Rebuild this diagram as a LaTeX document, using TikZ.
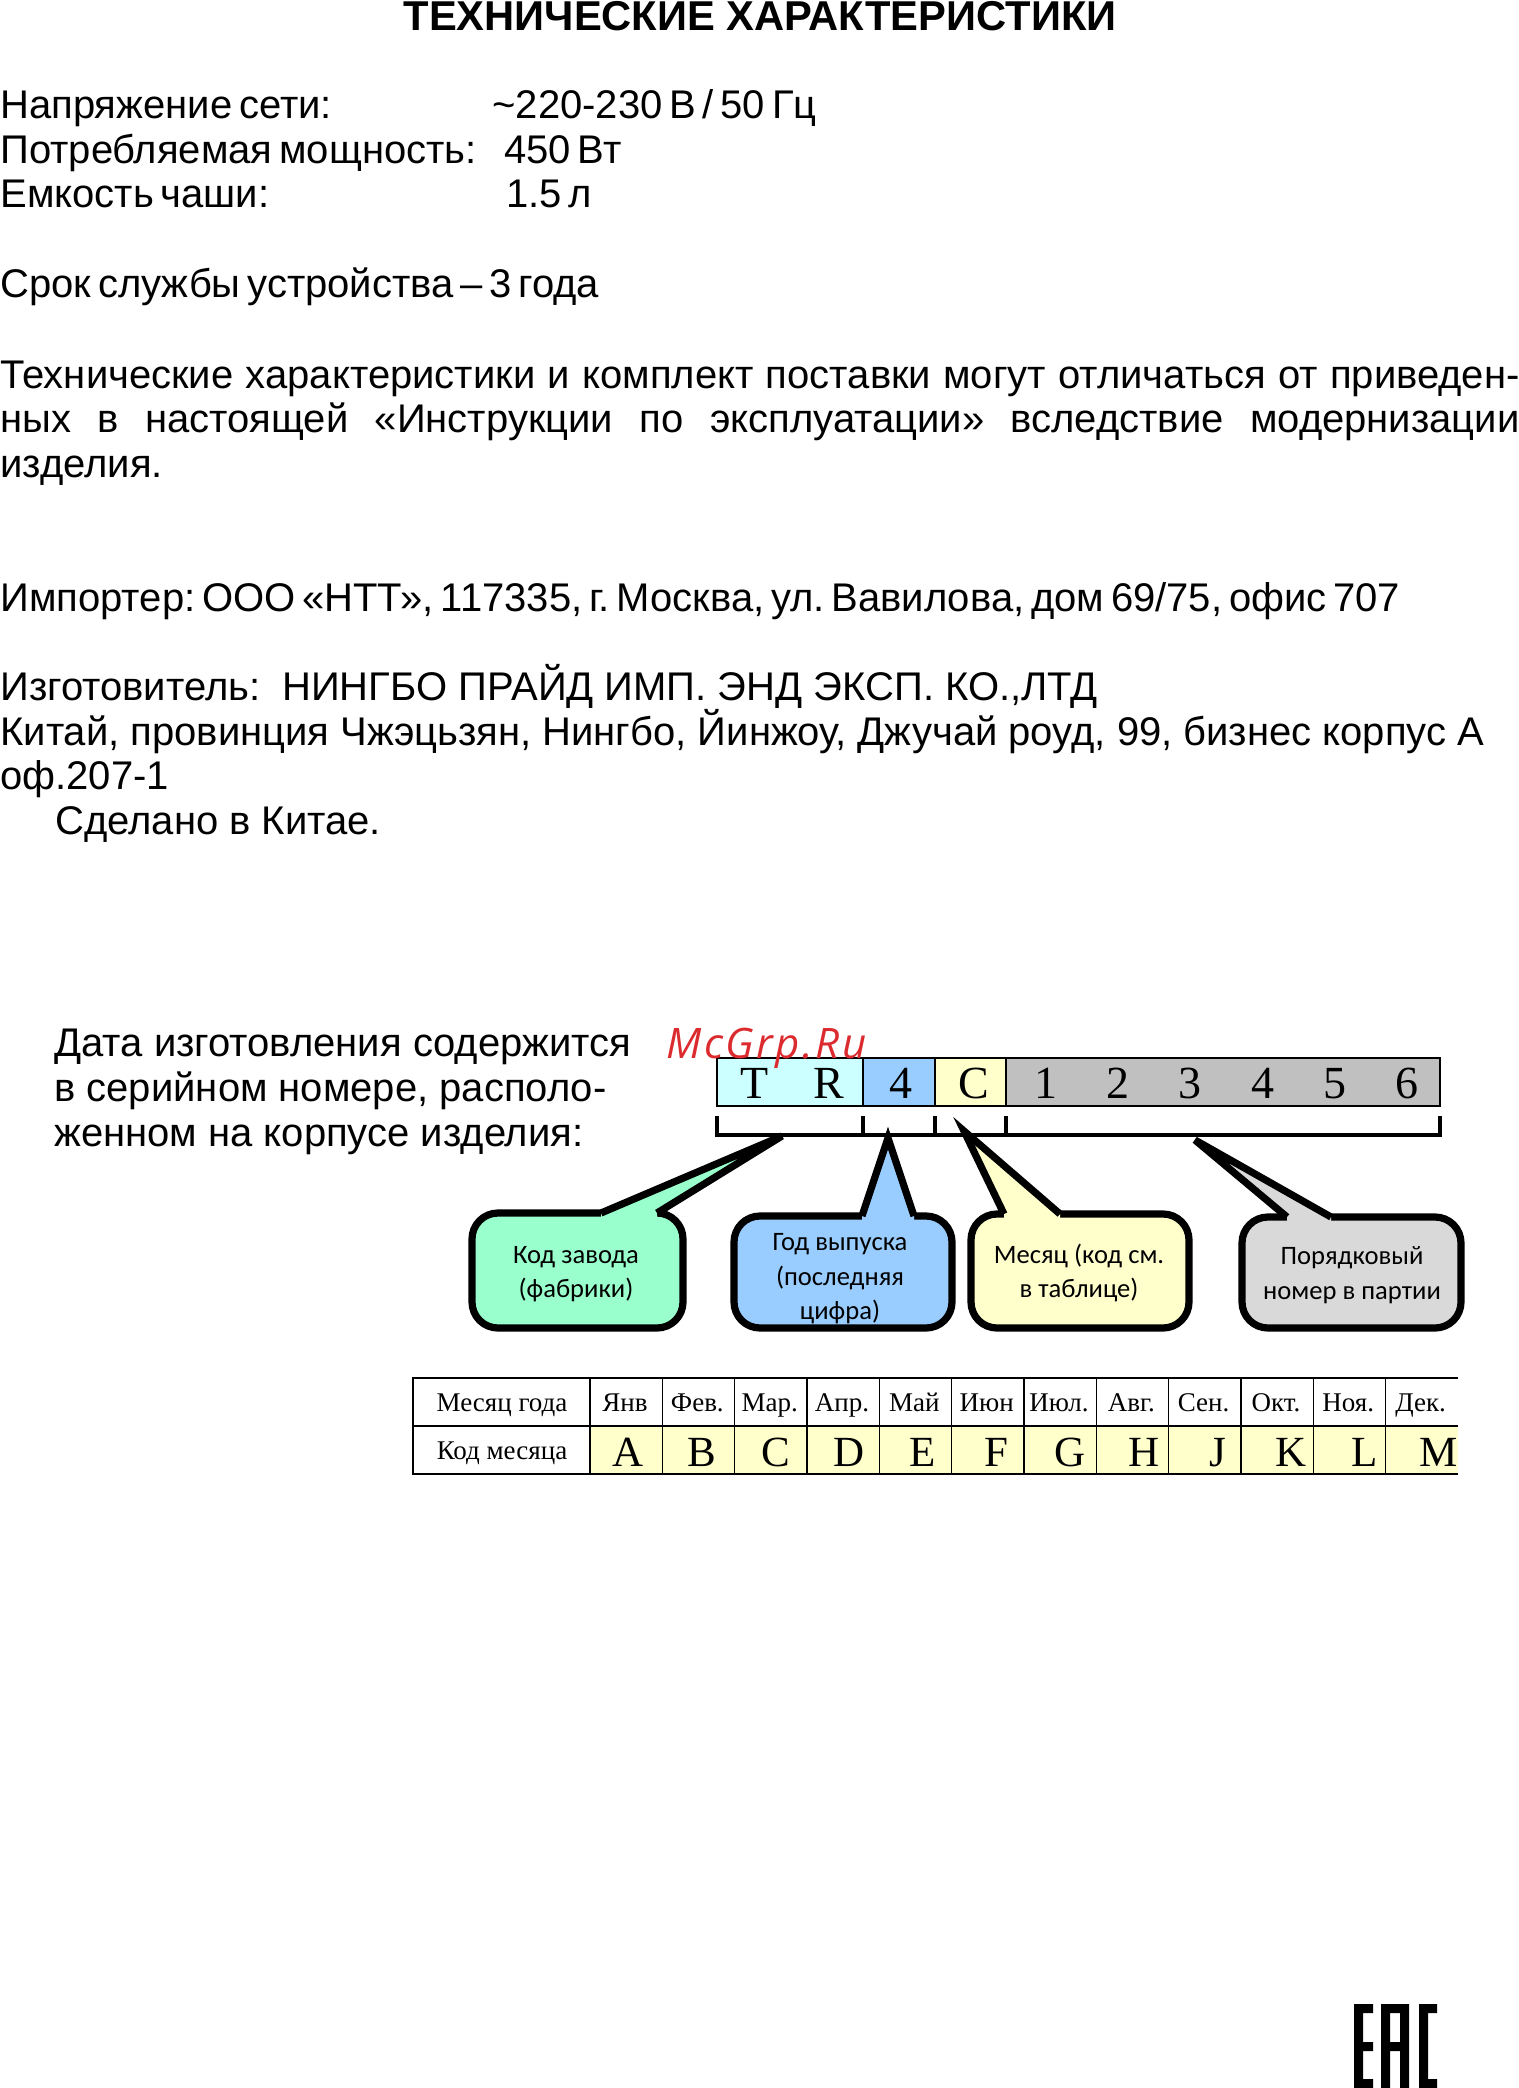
\documentclass[tikz,border=0pt]{standalone}
\usepackage{fontspec}
\setmainfont{Liberation Sans}
\newfontfamily\serialfont{Liberation Serif}
\newfontfamily\bubblefont{Carlito}
\newfontfamily\markfont[LetterSpace=6]{Open Sans}
\definecolor{plantcol}{HTML}{99FFCC}
\definecolor{yearcol}{HTML}{99CCFF}
\definecolor{monthcol}{HTML}{FFFFCC}
\definecolor{batchcol}{HTML}{D9D9D9}
\definecolor{cellcol}{HTML}{CCFFFF}
\definecolor{graycol}{HTML}{C0C0C0}
\definecolor{markcol}{HTML}{DC2B2F}
\newcommand{\tightspace}{\frenchspacing\spaceskip 3.4pt\relax}

\begin{document}
\begin{tikzpicture}[x=0.5pt, y=-0.5pt]
    \tikzstyle{line}=[anchor=base west, inner sep=0pt, font=\fontsize{20}{22.4}\selectfont]
    \tikzstyle{tight}=[line, font=\fontsize{20}{22.4}\selectfont\tightspace]
    \tikzstyle{para}=[line, text width=759.5pt, align=justify]
    \tikzstyle{serial}=[font=\serialfont\fontsize{23}{23}\selectfont, inner sep=0pt, anchor=base]
    \tikzstyle{cellbox}=[draw=black, line width=1.2pt]
    \tikzstyle{bracket}=[black, line width=1.9pt]
    \tikzstyle{bubble}=[draw=black, line width=3.6pt, rounded corners=13pt]
    \tikzstyle{tailedge}=[draw=black, line width=3.6pt, line join=miter, miter limit=30]
    \tikzstyle{bluntedge}=[draw=black, line width=3.6pt, line join=bevel]
    \tikzstyle{bubbletext}=[font=\bubblefont\fontsize{13.3}{17.3}\selectfont, align=center, inner sep=0pt]
    \tikzstyle{month}=[font=\serialfont\fontsize{13.5}{13.5}\selectfont, inner sep=0pt, anchor=base]
    \tikzstyle{code}=[font=\serialfont\fontsize{21.5}{21.5}\selectfont, inner sep=0pt, anchor=base]
    \tikzstyle{tableline}=[black, line width=1.3pt]
    \tikzstyle{thinline}=[black, line width=0.7pt]

    \useasboundingbox (0,0) rectangle (1519,2088);

    % upper text
    \node[line, anchor=base, font=\bfseries\fontsize{20.85}{22}\selectfont] (title) at (760,30) {ТЕХНИЧЕСКИЕ ХАРАКТЕРИСТИКИ};
    \node[tight] (power1) at (0,118.5) {Напряжение сети:};
    \node[tight] (power2) at (492,118.5) {\textasciitilde220-230 В / 50 Гц};
    \node[tight] (watt1) at (0,163.5) {Потребляемая мощность:};
    \node[tight] (watt2) at (504,163.5) {450 Вт};
    \node[tight] (bowl1) at (0,207.5) {Емкость чаши:};
    \node[tight] (bowl2) at (506,207.5) {1.5 л};
    \node[tight] (life) at (0,297.5) {Срок службы устройства – 3 года};
    \node[para] (note) at (0,388) {Технические характеристики и комплект поставки могут отличаться от приведен-\linebreak ных в настоящей «Инструкции по эксплуатации» вследствие модернизации\linebreak изделия.};
    \node[tight] (importer) at (0,611) {Импортер: ООО «НТТ», 117335, г. Москва, ул. Вавилова, дом 69/75, офис 707};
    \node[line] (maker1) at (0,700) {Изготовитель:\hspace{0.55em}НИНГБО ПРАЙД ИМП. ЭНД ЭКСП. КО.,ЛТД};
    \node[line] (maker2) at (0,745) {Китай, провинция Чжэцьзян, Нингбо, Йинжоу, Джучай роуд, 99, бизнес корпус А};
    \node[line] (maker3) at (0,789) {оф.207-1};
    \node[line] (china) at (55,834) {Сделано в Китае.};
    \node[line] (date1) at (54,1056.5) {Дата изготовления содержится};
    \node[line] (date2) at (54,1101.5) {в серийном номере, располо-};
    \node[line] (date3) at (54,1146.5) {женном на корпусе изделия:};

    % serial number
    \draw[cellbox, fill=cellcol] (717,1058) rectangle (863,1106);
    \draw[cellbox, fill=yearcol] (863,1058) rectangle (935,1106);
    \draw[cellbox, fill=monthcol] (935,1058) rectangle (1006,1106);
    \draw[cellbox, fill=graycol] (1006,1058) rectangle (1440,1106);
    \node[serial] (t) at (755,1098) {T};
    \node[serial] (r) at (829,1098) {R};
    \node[serial] (y) at (901,1098) {4};
    \node[serial] (m) at (974,1098) {C};
    \foreach \d [count=\i] in {1,2,3,4,5,6}
        \node[serial] (d\i) at ({1046+72.2*(\i-1)},1098) {\d};
    \node[anchor=base west, inner sep=0pt, text=markcol, font=\markfont\itshape\fontsize{21}{21}\selectfont] (mark) at (666,1058) {McGrp.Ru};

    % brackets
    \draw[bracket] (717,1116) -- (717,1135) -- (1440,1135) -- (1440,1116);
    \draw[bracket] (863,1116) -- (863,1135);
    \draw[bracket] (935,1116) -- (935,1135);
    \draw[bracket] (1006,1116) -- (1006,1135);

    % bubbles
    \draw[bubble, fill=plantcol] (472,1213) rectangle (683,1328);
    \fill[plantcol] (601,1222) -- (601,1213) -- (782,1136) -- (657,1213) -- (657,1222) -- cycle;
    \draw[bluntedge] (601,1213) -- (782,1136) -- (657,1213);
    \draw[bubble, fill=yearcol] (734,1216) rectangle (952,1328);
    \fill[yearcol] (862,1225) -- (862,1216) -- (888,1138) -- (914,1216) -- (914,1225) -- cycle;
    \draw[tailedge] (862,1216) -- (888,1138) -- (914,1216);
    \draw[bubble, fill=monthcol] (971,1214) rectangle (1189,1328);
    \fill[monthcol] (1004,1223) -- (1004,1214) -- (964,1131) -- (1060,1214) -- (1060,1223) -- cycle;
    \draw[tailedge] (1004,1214) -- (964,1131) -- (1060,1214);
    \draw[bubble, fill=batchcol] (1242,1217) rectangle (1461,1328);
    \fill[batchcol] (1287,1226) -- (1287,1217) -- (1195,1140) -- (1331,1217) -- (1331,1226) -- cycle;
    \draw[bluntedge] (1287,1217) -- (1195,1140) -- (1331,1217);
    \node[bubbletext] (plant) at (576,1274) {Код завода\\(фабрики)};
    \node[bubbletext] (year) at (840,1279) {Год выпуска\\(последняя\\цифра)};
    \node[bubbletext] (month) at (1079,1273) {Месяц (код см.\\в таблице)};
    \node[bubbletext] (batch) at (1352,1275) {Порядковый\\номер в партии};

    % table
    \fill[monthcol] (590,1426) rectangle (1458,1474);
    \foreach \i in {0,...,11}
        \draw[thinline] ({590+72.33*\i},1378) -- ({590+72.33*\i},1474);
    \draw[tableline] (1458,1378) -- (413,1378) -- (413,1474) -- (1458,1474);
    \draw[tableline] (413,1426) -- (1458,1426);
    \draw[tableline] (590,1378) -- (590,1474);
    \node[month] (rowa) at (502,1411) {Месяц года};
    \node[month] (rowb) at (502,1459) {Код месяца};
    \foreach \m/\c [count=\i] in {Янв/A,Фев./B,Мар./C,Апр./D,Май/E,Июн/F,Июл./G,Авг./H,Сен./J,Окт./K,Ноя./L,Дек./M} {
        \node[month] (m\i) at ({625+72.33*(\i-1)},1411) {\m};
        \node[code] (c\i) at ({628+73.7*(\i-1)},1466) {\c};
    }

    % mark
    \fill[black] (1354,2004) -- (1373,2004) -- (1373,2013) -- (1363,2013) -- (1363,2042) -- (1373,2042) -- (1373,2051) -- (1363,2051) -- (1363,2079) -- (1373,2079) -- (1373,2088) -- (1354,2088) -- cycle;
    \fill[black, even odd rule] (1381,2088) -- (1381,2004) -- (1409,2004) -- (1409,2088) -- (1400,2088) -- (1400,2051) -- (1390,2051) -- (1390,2088) -- cycle (1390,2013) rectangle (1400,2042);
    \fill[black] (1419,2004) -- (1437,2004) -- (1437,2013) -- (1428,2013) -- (1428,2079) -- (1437,2079) -- (1437,2088) -- (1419,2088) -- cycle;
\end{tikzpicture}
\end{document}
